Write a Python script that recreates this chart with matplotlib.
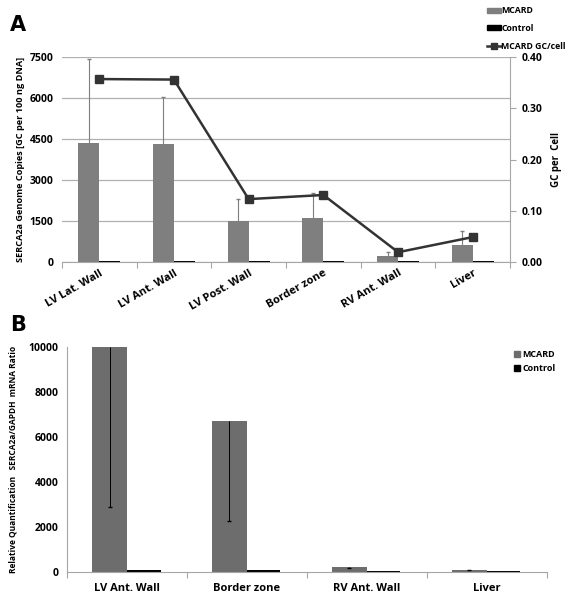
import matplotlib
matplotlib.use("Agg")
import matplotlib.pyplot as plt
import numpy as np
from matplotlib.lines import Line2D
from matplotlib.patches import Patch

plt.rcParams["font.family"] = ["Open Sans", "DejaVu Sans"]
plt.rcParams["font.weight"] = "bold"
plt.rcParams["axes.labelweight"] = "bold"

# Panel A data
regions_a = ["LV Lat. Wall", "LV Ant. Wall", "LV Post. Wall", "Border zone", "RV Ant. Wall", "Liver"]
mcard_gc = [4350, 4330, 1500, 1610, 220, 620]
mcard_gc_err = [3080, 1700, 800, 910, 145, 510]
control_gc = [30, 30, 30, 30, 30, 30]
gc_per_cell = [0.357, 0.356, 0.123, 0.131, 0.0195, 0.049]

# Panel B data
regions_b = ["LV Ant. Wall", "Border zone", "RV Ant. Wall", "Liver"]
mcard_mrna = [10000, 6700, 210, 90]
mcard_mrna_err = [7100, 4450, 20, 15]
control_mrna = [80, 80, 40, 40]

gray_a = "#7f7f7f"
gray_b = "#6d6d6d"
axis_gray = "#a6a6a6"
bw = 0.28

fig = plt.figure(figsize=(5.72, 6.0), dpi=100)

# ---- Panel A ----
ax = fig.add_axes([0.108, 0.563, 0.784, 0.342])
x = np.arange(len(regions_a))
xa = x - bw / 2
ax.bar(xa, mcard_gc, bw, color=gray_a, zorder=2)
ax.bar(x + bw / 2, control_gc, bw, color="black", zorder=2)
# upper-only error bars
top_a = np.array(mcard_gc) + np.array(mcard_gc_err)
ax.vlines(xa, mcard_gc, top_a, color=gray_a, linewidth=0.8, zorder=2)
ax.plot(xa, top_a, linestyle="none", marker="_", markersize=3, color=gray_a, zorder=2)
ax.set_ylim(0, 7500)
ax.set_xlim(-0.5, len(x) - 0.5)
ax.set_yticks(np.arange(0, 7501, 1500))
ax.yaxis.grid(True, color="#b0b0b0", linewidth=0.9, zorder=0)
ax.set_axisbelow(True)
ax.tick_params(axis="y", length=0, labelsize=7.5, pad=6)
ax.set_xticks(np.arange(-0.5, len(x), 1.0), minor=False)
ax.set_xticklabels([])
ax.set_xticks(x, minor=True)
ax.set_xticklabels(regions_a, minor=True, rotation=30, ha="right", rotation_mode="anchor", fontsize=8)
ax.tick_params(axis="x", which="major", length=4, color=axis_gray)
ax.tick_params(axis="x", which="minor", length=0, pad=4)
for s in ["left", "top", "right"]:
    ax.spines[s].set_visible(False)
ax.spines["bottom"].set_color(axis_gray)
ax.set_ylabel("SERCA2a Genome Copies [GC per 100 ng DNA]", fontsize=6.6, labelpad=3)

ax2 = ax.twinx()
ax2.plot(x, gc_per_cell, color="#333333", linewidth=1.8, marker="s", markersize=6, zorder=3)
ax2.set_ylim(0, 0.40)
ax2.set_yticks(np.arange(0, 0.41, 0.10))
ax2.set_yticklabels([f"{v:.2f}" for v in np.arange(0, 0.41, 0.10)])
ax2.tick_params(axis="y", labelsize=7.5, length=4, color=axis_gray, pad=4)
for s in ["left", "top", "bottom"]:
    ax2.spines[s].set_visible(False)
ax2.spines["right"].set_color(axis_gray)
ax2.set_ylabel("GC per  Cell", fontsize=7, labelpad=6)

handles_a = [
    Patch(color=gray_a, label="MCARD"),
    Patch(color="black", label="Control"),
    Line2D([0], [0], color="#333333", linewidth=1.8, marker="s", markersize=5, label="MCARD GC/cell"),
]
fig.legend(handles=handles_a, loc="upper right", bbox_to_anchor=(1.0, 1.0), frameon=False,
           fontsize=6.3, handlelength=1.6, handleheight=0.5, handletextpad=0.1, labelspacing=1.0,
           borderaxespad=0.3)
fig.text(0.017, 0.975, "A", fontsize=15, fontweight="bold", va="top", family="DejaVu Sans")

# ---- Panel B ----
bx = fig.add_axes([0.117, 0.047, 0.839, 0.375])
xb = np.arange(len(regions_b))
xm = xb - bw / 2 - 0.005
bx.bar(xm, mcard_mrna, bw + 0.01, color=gray_b, zorder=2)
bx.bar(xb + bw / 2, control_mrna, bw, color="black", zorder=2)
# lower-only error bars
low_b = np.array(mcard_mrna) - np.array(mcard_mrna_err)
bx.vlines(xm, low_b, mcard_mrna, color="black", linewidth=0.7, zorder=3)
bx.plot(xm, low_b, linestyle="none", marker="_", markersize=3, color="black", zorder=3)
bx.set_ylim(0, 10000)
bx.set_xlim(-0.5, len(xb) - 0.5)
bx.set_yticks(np.arange(0, 10001, 2000))
bx.tick_params(axis="y", length=0, labelsize=7.5, pad=6)
bx.set_xticks(np.arange(-0.5, len(xb), 1.0))
bx.set_xticklabels([])
bx.set_xticks(xb, minor=True)
bx.set_xticklabels(regions_b, minor=True, fontsize=8)
bx.tick_params(axis="x", which="major", length=4, color=axis_gray)
bx.tick_params(axis="x", which="minor", length=0, pad=8)
for s in ["top", "right"]:
    bx.spines[s].set_visible(False)
bx.spines["bottom"].set_color(axis_gray)
bx.spines["left"].set_color(axis_gray)
bx.set_ylabel("Relative Quantification   SERCA2a/GAPDH  mRNA Ratio", fontsize=6, labelpad=8)

handles_b = [Patch(color=gray_b, label="MCARD"), Patch(color="black", label="Control")]
bx.legend(handles=handles_b, loc="upper right", bbox_to_anchor=(1.035, 1.02), frameon=False,
          fontsize=6.5, handlelength=0.6, handleheight=0.6, handletextpad=0.3, labelspacing=0.5)
fig.text(0.017, 0.475, "B", fontsize=15, fontweight="bold", va="top", family="DejaVu Sans")

fig.savefig("out.png", dpi=100)
